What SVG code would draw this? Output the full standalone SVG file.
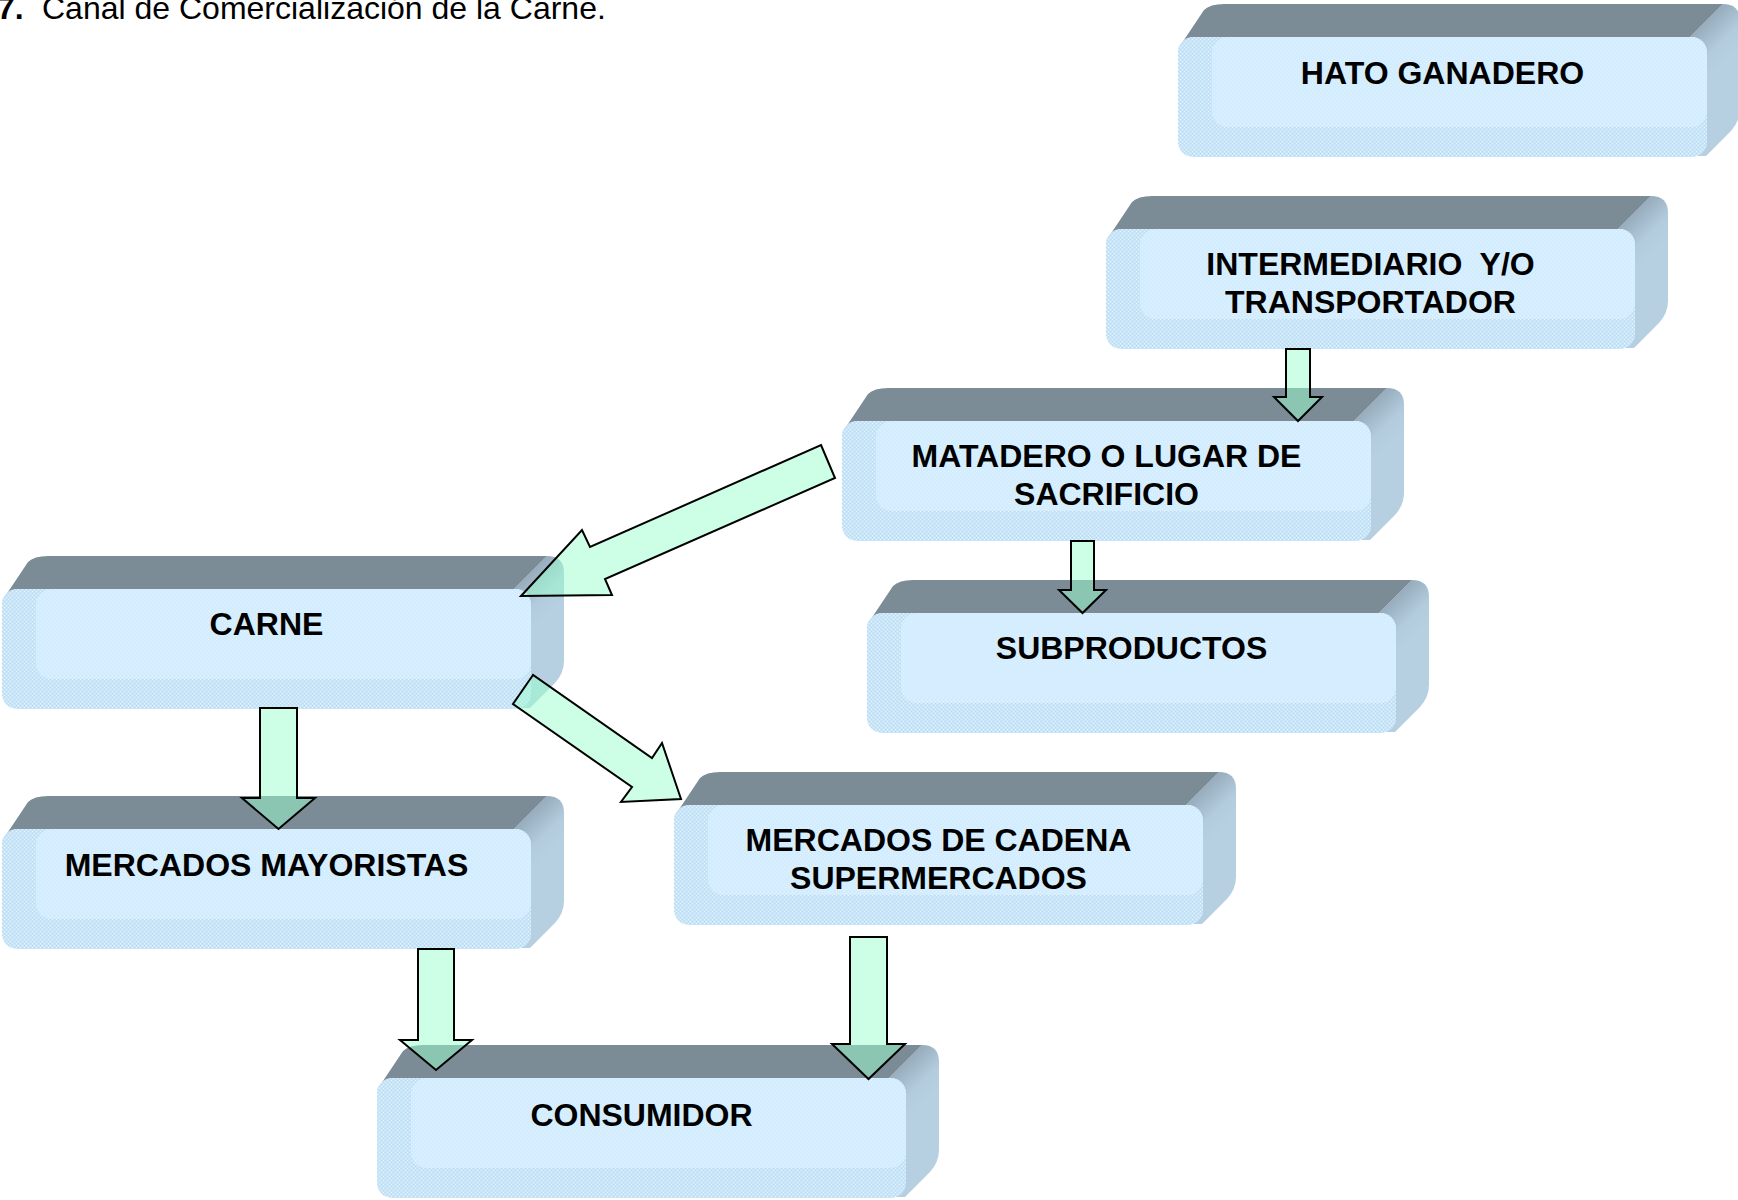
<svg xmlns="http://www.w3.org/2000/svg" width="1738" height="1200" viewBox="0 0 1738 1200">
  <defs>
    <style>
      .label { font-family: "Liberation Sans", Arial, sans-serif; font-weight: bold; font-size: 32px; fill: #000; text-anchor: middle; }
      .title { font-family: "Liberation Sans", Arial, sans-serif; font-size: 32px; fill: #000; }
      .arrow { fill: #99ffcc; fill-opacity: 0.5; stroke: #000; stroke-width: 2; stroke-linejoin: miter; }
      .top { fill: #7b8c97; }
      .side { fill: url(#sideShade); }
      .front { fill: url(#dither); }
      .glow { fill: url(#ditherLight); }
    </style>
    <!-- fine stipple used on the front faces -->
    <pattern id="dither" width="4" height="4" patternUnits="userSpaceOnUse">
      <rect width="4" height="4" fill="#c8e5f8"/>
      <rect x="0" y="0" width="1" height="1" fill="#e6f5ff"/>
      <rect x="2" y="2" width="1" height="1" fill="#e6f5ff"/>
      <rect x="2" y="0" width="1" height="1" fill="#bcdcf1"/>
      <rect x="0" y="2" width="1" height="1" fill="#bcdcf1"/>
    </pattern>
    <pattern id="ditherLight" width="4" height="4" patternUnits="userSpaceOnUse">
      <rect width="4" height="4" fill="#d3edfe"/>
      <rect x="0" y="0" width="1" height="1" fill="#e2f4ff"/>
      <rect x="2" y="2" width="1" height="1" fill="#e2f4ff"/>
    </pattern>
    <linearGradient id="sideShade" gradientUnits="userSpaceOnUse" x1="512" y1="-33" x2="558" y2="14">
      <stop offset="0" stop-color="#7e919f"/>
      <stop offset="0.75" stop-color="#b2cbdd"/>
      <stop offset="1" stop-color="#b6d0e2"/>
    </linearGradient>
    <!-- extruded box: front face 529x120, depth 33 up and to the right -->
    <g id="box">
      <path class="side" d="M512,0 L545,-33 Q562,-33 562,-16 L562,72 Q562,84 553,94 L528,119 L512,119 Z"/>
      <path class="top" d="M0,12 L26,-27 Q32,-33 46,-33 L545,-33 L512,0 L14,0 Z"/>
      <rect class="front" x="0" y="0" width="529" height="120" rx="15"/>
      <rect class="glow" x="34" y="0" width="495" height="90" rx="16"/>
    </g>
  </defs>

  <rect width="1738" height="1200" fill="#fff"/>

  <!-- heading -->
  <text class="title" y="19"><tspan x="-3" font-weight="bold">7.</tspan><tspan x="42">Canal de Comercialización de la Carne.</tspan></text>

  <g id="node-hato" transform="translate(1178,37)">
    <use href="#box"/>
    <text class="label" x="264.5" y="47">HATO GANADERO</text>
  </g>

  <g id="node-intermediario" transform="translate(1106,229)">
    <use href="#box"/>
    <text class="label" x="264.5" y="46" xml:space="preserve">INTERMEDIARIO  Y/O</text>
    <text class="label" x="264.5" y="84">TRANSPORTADOR</text>
  </g>

  <g id="node-matadero" transform="translate(842,421)">
    <use href="#box"/>
    <text class="label" x="264.5" y="46">MATADERO O LUGAR DE</text>
    <text class="label" x="264.5" y="84">SACRIFICIO</text>
  </g>

  <g id="node-subproductos" transform="translate(867,613)">
    <use href="#box"/>
    <text class="label" x="264.5" y="46">SUBPRODUCTOS</text>
  </g>

  <g id="node-carne" transform="translate(2,589)">
    <use href="#box"/>
    <text class="label" x="264.5" y="46">CARNE</text>
  </g>

  <g id="node-mayoristas" transform="translate(2,829)">
    <use href="#box"/>
    <text class="label" x="264.5" y="47">MERCADOS MAYORISTAS</text>
  </g>

  <g id="node-cadena" transform="translate(674,805)">
    <use href="#box"/>
    <text class="label" x="264.5" y="46">MERCADOS DE CADENA</text>
    <text class="label" x="264.5" y="84">SUPERMERCADOS</text>
  </g>

  <g id="node-consumidor" transform="translate(377,1078)">
    <use href="#box"/>
    <text class="label" x="264.5" y="48">CONSUMIDOR</text>
  </g>

  <!-- block arrows between stages -->
  <g id="connectors">
    <polygon class="arrow" points="1286,349 1310,349 1310,397 1322,397 1298,421 1274,397 1286,397"/>
    <polygon class="arrow" points="1071,541 1094,541 1094,590 1106,590 1082.5,613 1059,590 1071,590"/>
    <polygon class="arrow" points="821,445 835,478 605,579 612,595 521,596 582,530 590,547"/>
    <polygon class="arrow" points="533,675 513,704 632,787 621,802 681,799 662,743 652,758"/>
    <polygon class="arrow" points="260,708 297,708 297,798 315,798 278.5,829 242,798 260,798"/>
    <polygon class="arrow" points="418,949 454,949 454,1040 472,1040 436,1070 400,1040 418,1040"/>
    <polygon class="arrow" points="850,937 887,937 887,1044 905,1044 868.5,1079 832,1044 850,1044"/>
  </g>
</svg>
